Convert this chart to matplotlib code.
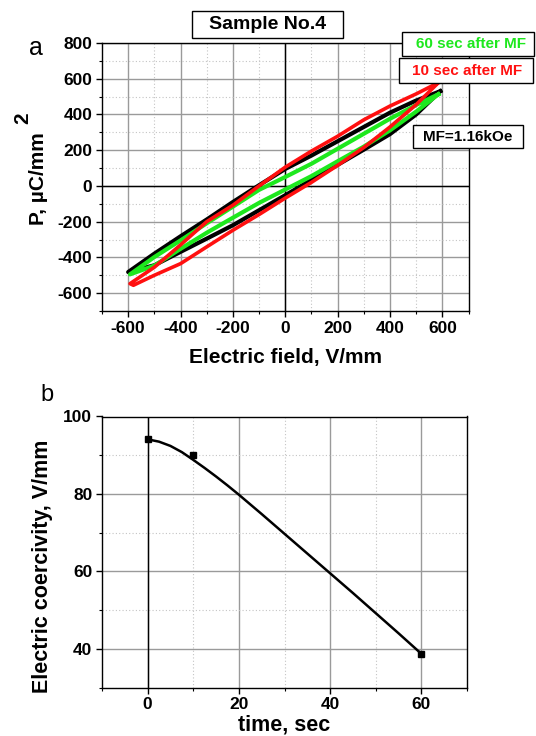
import numpy as np
import matplotlib
matplotlib.use("Agg")
import matplotlib.pyplot as plt
from matplotlib.patches import Rectangle
from matplotlib.ticker import MultipleLocator

plt.rcParams['font.family'] = ['Liberation Sans', 'DejaVu Sans']
plt.rcParams['font.weight'] = 'bold'
plt.rcParams['axes.labelweight'] = 'bold'
plt.rcParams['axes.unicode_minus'] = False

# ---- panel a: P-E loops ----
black_x_up = [592, 500, 400, 300, 200, 100, 0, -100, -200, -300, -400, -500, -600]
black_y_up = [530, 478, 410, 330, 250, 170, 95, 4, -90, -188, -282, -379, -482]
black_x_dn = [-600, -500, -400, -300, -200, -100, 0, 100, 200, 300, 400, 500, 592]
black_y_dn = [-482, -444, -369, -295, -220, -136, -52, 34, 118, 203, 290, 400, 530]

green_x_up = [585, 500, 400, 300, 200, 100, 0, -100, -200, -300, -400, -500, -593]
green_y_up = [513, 453, 376, 292, 208, 124, 50, -22, -116, -209, -305, -398, -495]
green_x_dn = [-593, -500, -400, -300, -200, -100, 0, 100, 200, 300, 400, 500, 585]
green_y_dn = [-495, -446, -352, -262, -178, -95, -20, 55, 138, 220, 311, 416, 513]

red_x_up = [585, 500, 400, 300, 200, 100, 0, -100, -200, -300, -400, -500, -593]
red_y_up = [578, 515, 447, 370, 278, 195, 105, 0, -108, -200, -330, -455, -547]
red_x_dn = [-593, -580, -500, -400, -300, -200, -100, 0, 100, 200, 300, 400, 500, 585]
red_y_dn = [-547, -556, -500, -435, -341, -248, -160, -68, 20, 115, 215, 330, 455, 578]

# ---- panel b: coercivity vs time ----
time_pts = [0, 10, 60]
coerc_pts = [94.1, 90.0, 38.7]
fit_t = [0, 2.5, 5, 7.5, 10, 12.5, 15, 17.5, 20, 25, 30, 35, 40, 45, 50, 55, 60]
fit_v = [94.1, 93.5, 92.4, 90.8, 88.8, 86.7, 84.5, 82.2, 79.8, 74.8, 69.7,
         64.6, 59.5, 54.4, 49.2, 44.0, 38.7]

W, H = 536, 736
fig = plt.figure(figsize=(W / 100, H / 100), dpi=100)


def fx(px):
    return px / W


def fy(py):
    return 1 - py / H


def style_axes(ax):
    ax.set_axisbelow(True)
    ax.grid(which='major', color='#9a9a9a', lw=1, ls='-')
    ax.grid(which='minor', color='#c4c4c4', lw=0.8, ls=(0, (1, 2)))
    ax.tick_params(which='major', direction='out', length=4, width=1,
                   labelsize=12.5, pad=3, top=False, right=False)
    ax.tick_params(which='minor', direction='out', length=2.5, width=0.8,
                   top=False, right=False)
    for s in ax.spines.values():
        s.set_linewidth(1)
        s.set_color('black')


ax1 = fig.add_axes([fx(102), fy(311), 366.5 / W, 268 / H])
ax1.plot(black_x_up + black_x_dn, black_y_up + black_y_dn, color='black', lw=3)
ax1.plot(green_x_up + green_x_dn, green_y_up + green_y_dn, color='#1ee81e', lw=3)
ax1.plot(red_x_up + red_x_dn, red_y_up + red_y_dn, color='#ff1010', lw=2.6)
ax1.axhline(0, color='black', lw=1, zorder=1)
ax1.axvline(0, color='black', lw=1, zorder=1)
ax1.set_xlim(-700, 700)
ax1.set_ylim(-700, 800)
ax1.set_xticks(np.arange(-600, 601, 200))
ax1.set_yticks(np.arange(-600, 801, 200))
ax1.xaxis.set_minor_locator(MultipleLocator(100))
ax1.yaxis.set_minor_locator(MultipleLocator(100))
style_axes(ax1)
ax1.set_xlabel('Electric field, V/mm', fontsize=15, va='baseline')
ax1.xaxis.set_label_coords(0.5, (311 - 362.7) / 268)
ax1.set_ylabel('P, µC/mm', fontsize=15, ha='center', va='center')
ax1.yaxis.set_label_coords((38 - 102) / 366.5, (311 - 179) / 268)
ax1.text((23 - 102) / 366.5, (311 - 118) / 268, '2', transform=ax1.transAxes,
         rotation=90, ha='center', va='center', fontsize=15, clip_on=False)

ax2 = fig.add_axes([fx(102), fy(687.5), 365 / W, 271 / H])
ax2.plot(fit_t, fit_v, color='black', lw=1.8)
ax2.plot(time_pts, coerc_pts, ls='none', marker='s', ms=4, color='black')
ax2.axvline(0, color='black', lw=1, zorder=1)
ax2.set_xlim(-10, 70)
ax2.set_ylim(30, 100)
ax2.set_xticks([0, 20, 40, 60])
ax2.set_yticks([40, 60, 80, 100])
ax2.xaxis.set_minor_locator(MultipleLocator(10))
ax2.yaxis.set_minor_locator(MultipleLocator(10))
style_axes(ax2)
ax2.set_xlabel('time, sec', fontsize=15.5, va='baseline')
ax2.xaxis.set_label_coords(0.5, (687.5 - 731) / 271)
ax2.set_ylabel('Electric coercivity, V/mm', fontsize=15.5, ha='center', va='center')
ax2.yaxis.set_label_coords((42 - 102) / 365, (687.5 - 566) / 271)

fig.text(fx(36), fy(48), 'a', fontsize=18, fontweight='normal', ha='center', va='center')
fig.text(fx(47), fy(395), 'b', fontsize=17, fontweight='normal', ha='center', va='center')


def boxed(x0, y0, x1, y1, tx, ty, label, color, size):
    fig.patches.append(Rectangle((fx(x0), fy(y1)), (x1 - x0) / W, (y1 - y0) / H,
                                 transform=fig.transFigure, facecolor='white',
                                 edgecolor='black', lw=1, zorder=5))
    fig.text(fx(tx), fy(ty), label, color=color, fontsize=size,
             ha='center', va='center', zorder=6)


boxed(191.5, 10.7, 343, 38.3, 268, 24.5, 'Sample No.4', 'black', 14)
boxed(401.7, 31.7, 534, 56, 471, 44, '60 sec after MF', '#1ee81e', 11)
boxed(398.7, 58.3, 533.3, 82.7, 467, 71, '10 sec after MF', '#ff1010', 11)
boxed(413, 125, 523, 148, 468, 137, 'MF=1.16kOe', 'black', 11)

fig.savefig('out.png', dpi=100)
